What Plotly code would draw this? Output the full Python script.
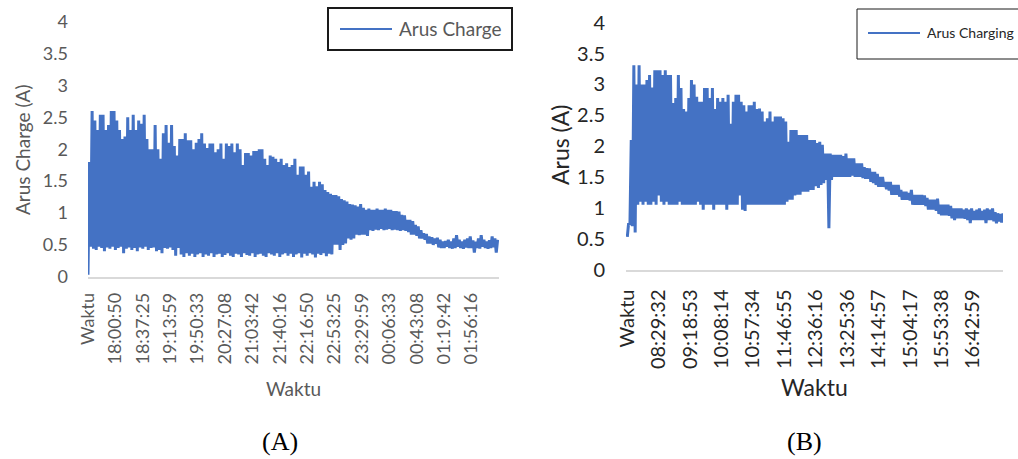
import plotly.graph_objects as go

# ---- (A) Arus Charge : peaks and troughs of the charging current, in order ----
puncak_a = [
    1.80, 2.60, 2.45, 2.30, 2.54, 2.54, 2.30, 2.38, 2.60, 2.60,
    2.45, 2.30, 2.16, 2.20, 2.50, 2.30, 2.54, 2.30, 2.45, 2.40,
    2.54, 2.16, 2.00, 2.00, 2.38, 2.00, 1.85, 2.25, 2.38, 2.10,
    2.38, 2.05, 1.90, 2.16, 2.16, 2.25, 2.14, 2.14, 2.00, 2.10,
    2.16, 2.25, 2.09, 2.02, 2.09, 2.09, 1.95, 2.00, 2.09, 1.85,
    2.09, 2.05, 2.09, 1.95, 2.09, 2.00, 1.75, 1.94, 1.94, 1.90,
    1.97, 1.97, 2.00, 2.00, 1.85, 1.75, 1.90, 1.88, 1.85, 1.80,
    1.85, 1.75, 1.78, 1.72, 1.75, 1.85, 1.60, 1.73, 1.73, 1.60,
    1.65, 1.41, 1.49, 1.42, 1.49, 1.45, 1.36, 1.33, 1.30, 1.28,
    1.28, 1.26, 1.22, 1.20, 1.18, 1.14, 1.13, 1.12, 1.10, 1.14,
    1.08, 1.05, 1.07, 1.05, 1.05, 1.07, 1.05, 1.05, 1.07, 1.05,
    1.05, 1.03, 1.03, 1.02, 0.97, 0.96, 0.89, 0.89, 0.87, 0.81,
    0.79, 0.73, 0.68, 0.67, 0.63, 0.62, 0.60, 0.61, 0.58, 0.55,
    0.56, 0.58, 0.55, 0.60, 0.65, 0.58, 0.55, 0.58, 0.60, 0.63,
    0.57, 0.55, 0.60, 0.65, 0.58, 0.55, 0.57, 0.63, 0.60, 0.58,
]
lembah_a = [
    0.03, 0.47, 0.44, 0.42, 0.47, 0.45, 0.40, 0.46, 0.44, 0.47,
    0.42, 0.45, 0.47, 0.37, 0.44, 0.46, 0.42, 0.45, 0.40, 0.46,
    0.44, 0.47, 0.42, 0.45, 0.46, 0.40, 0.42, 0.37, 0.45, 0.44,
    0.46, 0.42, 0.33, 0.45, 0.35, 0.31, 0.37, 0.33, 0.36, 0.31,
    0.35, 0.37, 0.31, 0.35, 0.33, 0.37, 0.31, 0.35, 0.36, 0.31,
    0.34, 0.37, 0.33, 0.31, 0.36, 0.35, 0.31, 0.37, 0.34, 0.33,
    0.37, 0.31, 0.35, 0.36, 0.33, 0.31, 0.37, 0.35, 0.33, 0.37,
    0.31, 0.35, 0.37, 0.33, 0.36, 0.31, 0.35, 0.37, 0.30, 0.36,
    0.33, 0.37, 0.35, 0.30, 0.36, 0.34, 0.37, 0.32, 0.36, 0.35,
    0.50, 0.50, 0.42, 0.50, 0.52, 0.60, 0.58, 0.60, 0.66, 0.65,
    0.66, 0.66, 0.64, 0.73, 0.72, 0.74, 0.73, 0.75, 0.73, 0.74,
    0.75, 0.73, 0.74, 0.73, 0.72, 0.73, 0.72, 0.70, 0.66, 0.66,
    0.64, 0.60, 0.60, 0.58, 0.52, 0.52, 0.50, 0.52, 0.46, 0.45,
    0.45, 0.47, 0.45, 0.44, 0.45, 0.47, 0.45, 0.44, 0.46, 0.45,
    0.45, 0.38, 0.45, 0.44, 0.47, 0.45, 0.44, 0.45, 0.46, 0.38,
]
label_waktu_a = [
    "Waktu", "18:00:50", "18:37:25", "19:13:59", "19:50:33", "20:27:08",
    "21:03:42", "21:40:16", "22:16:50", "22:53:25", "23:29:59",
    "00:06:33", "00:43:08", "01:19:42", "01:56:16",
]

# ---- (B) Arus Charging ----
puncak_b = [
    0.75, 2.10, 3.31, 3.00, 3.31, 3.00, 3.00, 3.07, 3.15, 2.95,
    3.23, 3.23, 3.23, 3.15, 3.23, 3.15, 3.15, 2.70, 2.78, 3.15,
    2.94, 2.60, 2.56, 2.78, 3.07, 3.00, 2.80, 2.72, 2.72, 2.94,
    2.94, 2.78, 2.94, 2.60, 2.78, 2.72, 2.78, 2.72, 2.83, 2.36,
    2.72, 2.83, 2.83, 2.72, 2.66, 2.56, 2.66, 2.66, 2.72, 2.60,
    2.61, 2.56, 2.40, 2.45, 2.56, 2.40, 2.48, 2.48, 2.48, 2.45,
    2.40, 2.07, 2.26, 2.26, 2.26, 2.18, 2.18, 2.18, 2.18, 2.10,
    2.10, 2.10, 2.05, 2.07, 2.02, 1.88, 1.88, 1.88, 1.86, 1.86,
    1.86, 1.86, 1.84, 1.88, 1.80, 1.80, 1.80, 1.72, 1.72, 1.72,
    1.66, 1.64, 1.64, 1.58, 1.58, 1.55, 1.50, 1.50, 1.42, 1.42,
    1.42, 1.37, 1.37, 1.37, 1.29, 1.26, 1.26, 1.24, 1.29, 1.21,
    1.21, 1.21, 1.21, 1.20, 1.16, 1.13, 1.13, 1.13, 1.15, 1.05,
    1.05, 1.05, 1.05, 1.03, 0.99, 0.99, 0.99, 0.99, 0.97, 0.99,
    0.97, 0.99, 0.95, 0.97, 0.99, 0.95, 0.97, 0.99, 0.97, 0.99,
    0.93, 0.91, 0.90, 0.91,
]
lembah_b = [
    0.53, 0.72, 0.70, 0.60, 1.05, 1.10, 1.05, 1.10, 1.05, 1.05,
    1.10, 1.05, 1.20, 1.10, 1.05, 1.10, 1.05, 1.05, 1.05, 1.05,
    1.10, 1.05, 1.05, 1.05, 1.05, 1.05, 1.05, 1.10, 1.05, 0.97,
    1.05, 1.05, 1.05, 0.97, 1.05, 1.05, 1.05, 1.05, 0.97, 1.05,
    1.05, 1.05, 1.05, 1.20, 0.97, 0.95, 1.05, 1.05, 1.05, 1.05,
    1.05, 1.05, 1.05, 1.05, 1.05, 1.05, 1.05, 1.05, 1.05, 1.05,
    1.05, 1.10, 1.13, 1.13, 1.20, 1.21, 1.21, 1.26, 1.26, 1.26,
    1.29, 1.29, 1.35, 1.32, 1.37, 1.40, 1.45, 0.67, 1.45, 1.50,
    1.50, 1.50, 1.50, 1.50, 1.50, 1.50, 1.52, 1.50, 1.50, 1.50,
    1.48, 1.47, 1.47, 1.42, 1.40, 1.37, 1.34, 1.34, 1.34, 1.30,
    1.28, 1.21, 1.21, 1.21, 1.18, 1.13, 1.13, 1.13, 1.12, 1.05,
    1.05, 1.05, 1.05, 1.05, 1.03, 0.97, 0.97, 0.97, 0.95, 0.90,
    0.88, 0.88, 0.88, 0.87, 0.83, 0.80, 0.83, 0.83, 0.83, 0.82,
    0.80, 0.75, 0.80, 0.80, 0.80, 0.80, 0.80, 0.75, 0.80, 0.80,
    0.78, 0.75, 0.78, 0.76,
]
label_waktu_b = [
    "Waktu", "08:29:32", "09:18:53", "10:08:14", "10:57:34", "11:46:55",
    "12:36:16", "13:25:36", "14:14:57", "15:04:17", "15:53:38", "16:42:59",
]

LANGKAH_A = 20   # samples between two labelled timestamps
LANGKAH_B = 24
BIRU = "#4472C4"
ABU = "#595959"
HITAM = "#262626"
FONT = "Lato"


def rangkai(lembah, puncak):
    """Trough/peak readings in time order as one series."""
    seri = []
    for lo, hi in zip(lembah, puncak):
        seri += [lo, hi]
    return seri


arus_a = rangkai(lembah_a, puncak_a)
arus_b = rangkai(lembah_b, puncak_b)

W, H = 1018, 459


def px(x):
    return x / W


def py(y):
    return 1 - y / H


fig = go.Figure()
fig.add_trace(go.Scatter(
    x=list(range(len(arus_a))), y=arus_a, mode="lines", name="Arus Charge",
    line=dict(color=BIRU, width=3), xaxis="x", yaxis="y", showlegend=False,
))
fig.add_trace(go.Scatter(
    x=list(range(len(arus_b))), y=arus_b, mode="lines", name="Arus Charging",
    line=dict(color=BIRU, width=3), xaxis="x2", yaxis="y2", showlegend=False,
))

sumbu_y = dict(range=[0, 4], dtick=0.5, tick0=0, showgrid=False, zeroline=False,
               showline=False, ticks="", automargin=False)
sumbu_x = dict(showgrid=False, zeroline=False, showline=True, linecolor="#d9d9d9",
               linewidth=2, ticks="", tickangle=-90, automargin=False)

fig.update_layout(
    width=W, height=H, margin=dict(l=0, r=0, t=0, b=0, autoexpand=False),
    paper_bgcolor="white", plot_bgcolor="white",
    xaxis=dict(sumbu_x, domain=[px(88), px(499)], range=[0, len(label_waktu_a) * LANGKAH_A],
               tickvals=[i * LANGKAH_A for i in range(len(label_waktu_a))],
               ticktext=label_waktu_a, anchor="y",
               tickfont=dict(family=FONT, size=18, color=ABU), ticklabelstandoff=7),
    yaxis=dict(sumbu_y, domain=[py(276.7), py(21.7)], anchor="x",
               tickfont=dict(family=FONT, size=18, color=ABU), ticklabelstandoff=19),
    xaxis2=dict(sumbu_x, domain=[px(626), px(1003)], range=[-1, 287],
                tickvals=[i * LANGKAH_B for i in range(len(label_waktu_b))],
                ticktext=label_waktu_b, anchor="y2",
                tickfont=dict(family=FONT, size=20, color=HITAM), ticklabelstandoff=10),
    yaxis2=dict(sumbu_y, domain=[py(269.5), py(22.7)], anchor="x2",
                tickfont=dict(family=FONT, size=20, color=HITAM), ticklabelstandoff=20),
)

teks = [
    dict(x=px(293), y=py(388), text="Waktu", size=19, color=ABU, family=FONT, angle=0),
    dict(x=px(23), y=py(150), text="Arus Charge (A)", size=19, color=ABU, family=FONT, angle=-90),
    dict(x=px(814), y=py(387), text="Waktu", size=23, color=HITAM, family=FONT, angle=0),
    dict(x=px(560), y=py(145), text="Arus (A)", size=23, color=HITAM, family=FONT, angle=-90),
    dict(x=px(280), y=py(441), text="(A)", size=26, color="#000000", family="Liberation Serif", angle=0),
    dict(x=px(804), y=py(441), text="(B)", size=26, color="#000000", family="Liberation Serif", angle=0),
]
for t in teks:
    fig.add_annotation(x=t["x"], y=t["y"], xref="paper", yref="paper", text=t["text"],
                       showarrow=False, textangle=t["angle"], xanchor="center", yanchor="middle",
                       font=dict(family=t["family"], size=t["size"], color=t["color"]))

# legend boxes
fig.add_shape(type="rect", xref="paper", yref="paper", x0=px(328), x1=px(512), y0=py(50), y1=py(8),
              line=dict(color="#1a1a1a", width=2), fillcolor="white")
fig.add_shape(type="line", xref="paper", yref="paper", x0=px(340), x1=px(392), y0=py(29), y1=py(29),
              line=dict(color=BIRU, width=2))
fig.add_annotation(x=px(397), y=py(29), xref="paper", yref="paper", text="Arus Charge",
                   showarrow=False, xanchor="left", yanchor="middle",
                   font=dict(family=FONT, size=19, color=ABU))

fig.add_shape(type="rect", xref="paper", yref="paper", x0=px(857), x1=px(1030), y0=py(59), y1=py(9),
              line=dict(color="#1a1a1a", width=1), fillcolor="white")
fig.add_shape(type="line", xref="paper", yref="paper", x0=px(868), x1=px(920), y0=py(33), y1=py(33),
              line=dict(color=BIRU, width=2))
fig.add_annotation(x=px(925), y=py(33), xref="paper", yref="paper", text="Arus Charging",
                   showarrow=False, xanchor="left", yanchor="middle",
                   font=dict(family=FONT, size=14, color=HITAM))

fig.write_html("out.html")
